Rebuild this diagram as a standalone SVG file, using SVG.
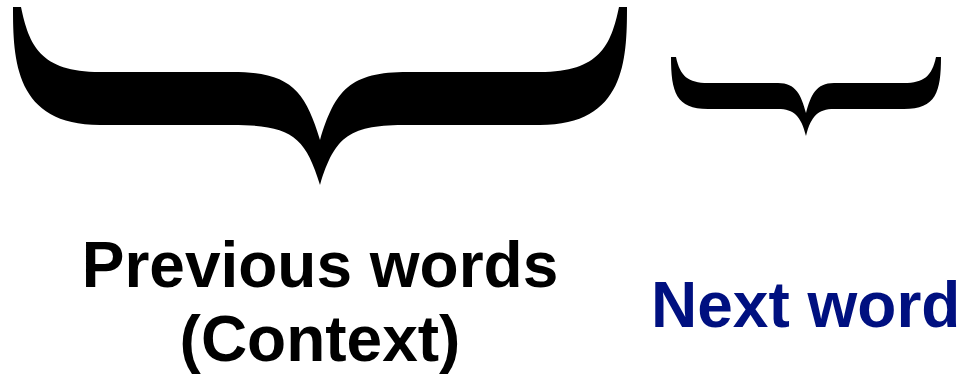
<svg xmlns="http://www.w3.org/2000/svg" width="965" height="381" viewBox="0 0 965 381">
<style>
.brace{fill:#000;}
.lbl{font-family:"Liberation Sans",Arial,Helvetica,sans-serif;font-weight:bold;font-size:64px;}
</style>
<rect width="965" height="381" fill="#fff"/>
<g id="context-brace">
<path class="brace" d="M 13,7 L 21,7 C 29,45 40,72 100,72 L 232,72 C 290,72 305,90 320,140 C 335,90 350,72 408,72 L 540,72 C 600,72 611,45 619,7 L 627,7 C 627,60 625,125 540,125 L 408,125 C 350,125 335,135 320,185 C 305,135 290,125 232,125 L 100,125 C 15,125 13,60 13,7 Z"/>
</g>
<g id="next-brace">
<path class="brace" d="M 671,57 L 676,57 C 680,76 688,83 708,83 L 778,83 C 796,83 801,95 806,113 C 811,95 816,83 834,83 L 904,83 C 924,83 932,76 936,57 L 941,57 C 941,92 936,109 904,109 L 834,109 C 818,109 811,116 806,136 C 801,116 794,109 778,109 L 708,109 C 676,109 671,92 671,57 Z"/>
</g>
<g id="context-label">
<text class="lbl" x="320" y="287" text-anchor="middle" fill="#000">Previous words</text>
<text class="lbl" x="320" y="361" text-anchor="middle" fill="#000">(Context)</text>
</g>
<g id="next-label">
<text class="lbl" x="651" y="327" fill="#001080">Next word</text>
</g>
</svg>
